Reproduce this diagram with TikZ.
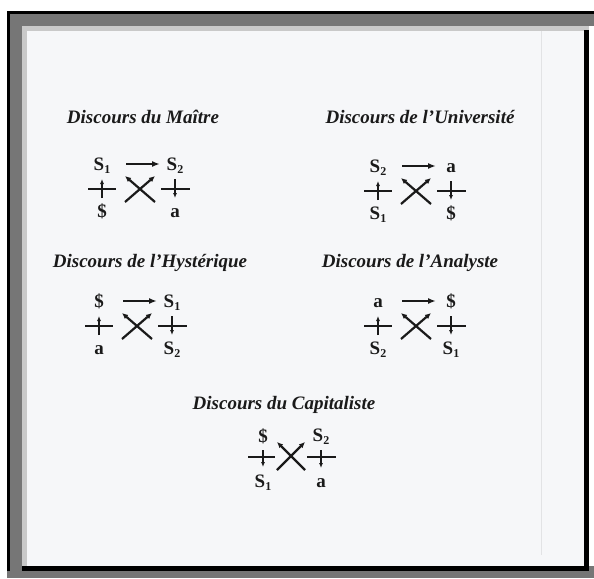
\documentclass[tikz,border=0pt]{standalone}
\usepackage{fontspec}
\setmainfont{Liberation Serif}
\usetikzlibrary{arrows.meta,calc}
\definecolor{Ink}{HTML}{1A1A1A}
\definecolor{FrameGray}{HTML}{767676}
\definecolor{FrameLight}{HTML}{C9C9C9}
\definecolor{PageWhite}{HTML}{F6F7F9}
\definecolor{ScanEdge}{HTML}{E2E3E5}
\newcommand{\lowidx}[1]{\raisebox{-0.35ex}{\fontsize{12}{12}\selectfont #1}}
\newcommand{\titlefont}{\fontsize{19}{21}\selectfont\bfseries\itshape}

\begin{document}
\begin{tikzpicture}[x=1pt,y=-1pt,
    letter/.style={inner sep=0pt,text height=13pt,text depth=0pt,
      font=\fontsize{19}{20}\selectfont\bfseries,text=Ink},
    heading/.style={anchor=base,inner sep=0pt,font=\titlefont,text=Ink},
    bar/.style={draw=Ink,line width=1.1pt},
    tick/.style={draw=Ink,line width=1.1pt,-{Latex[length=5pt,width=4pt]}},
    lead/.style={draw=Ink,line width=1.6pt,-{Latex[length=8pt,width=6pt]}},
    cross/.style={draw=Ink,line width=2.2pt,-{Latex[length=6pt,width=5.5pt]}}]
  % scanned page and its frame
  \useasboundingbox (0,0) rectangle (594,578);
  \fill[white] (0,0) rectangle (594,578);
  \fill[FrameGray] (7,11) rectangle (594,26);
  \fill[FrameGray] (7,11) rectangle (22,578);
  \fill[FrameGray] (7,566) rectangle (594,578);
  \fill[black] (7,11) rectangle (594,14);
  \fill[black] (7,11) rectangle (10,571);
  \fill[FrameLight] (22,26) rectangle (589,31);
  \fill[FrameLight] (22,26) rectangle (27,566);
  \fill[PageWhite] (27,31) rectangle (584,566);
  \fill[black] (584,30) rectangle (589,571);
  \fill[black] (22,566) rectangle (589,571);
  \draw[ScanEdge,line width=0.8pt] (541,31) -- (541,555);

  % headings
  \node[heading] (t-mai) at (143,123) {Discours du Maître};
  \node[heading] (t-uni) at (420,123) {Discours de l'Université};
  \node[heading] (t-hys) at (150,267) {Discours de l'Hystérique};
  \node[heading] (t-ana) at (410,267) {Discours de l'Analyste};
  \node[heading] (t-cap) at (284,409) {Discours du Capitaliste};

  % the four discourses
  \foreach \nm/\px/\py/\ag/\ot/\tr/\pr in
    {mai/102/189/{S\lowidx{1}}/{S\lowidx{2}}/{\$}/a,
     uni/378/191/{S\lowidx{2}}/a/{S\lowidx{1}}/{\$},
     hys/99/326/{\$}/{S\lowidx{1}}/a/{S\lowidx{2}},
     ana/378/326/a/{\$}/{S\lowidx{2}}/{S\lowidx{1}}}
  {
    \node[letter] (\nm-ag) at (\px,\py-25) {\ag};
    \node[letter] (\nm-ot) at (\px+73,\py-25) {\ot};
    \node[letter] (\nm-tr) at (\px,\py+22) {\tr};
    \node[letter] (\nm-pr) at (\px+73,\py+22) {\pr};
    \draw[bar] (\px-14,\py) -- (\px+14,\py);
    \draw[bar] (\px+59,\py) -- (\px+88,\py);
    \draw[tick,shorten <=13pt,shorten >=15pt] (\nm-tr.center) -- (\nm-ag.center);
    \draw[tick,shorten <=15pt,shorten >=13pt] (\nm-ot.center) -- (\nm-pr.center);
    \draw[lead,shorten <=24pt,shorten >=15pt] (\nm-ag.center) -- (\nm-ot.center);
    \coordinate (\nm-sw) at (\px+23,\py+13);
    \coordinate (\nm-ne) at (\px+53,\py-13);
    \coordinate (\nm-se) at (\px+53,\py+13);
    \coordinate (\nm-nw) at (\px+23,\py-13);
    \draw[cross] (\nm-sw) -- (\nm-ne);
    \draw[cross] (\nm-se) -- (\nm-nw);
  }

  % capitalist discourse
  \node[letter] (cap-ag) at (263,436) {\$};
  \node[letter] (cap-ot) at (321,435) {S\lowidx{2}};
  \node[letter] (cap-tr) at (263,481) {S\lowidx{1}};
  \node[letter] (cap-pr) at (321,481) {a};
  \draw[bar] (248,457) -- (275,457);
  \draw[bar] (307,457) -- (336,457);
  \draw[tick,shorten <=14pt,shorten >=14pt] (cap-ag.center) -- (cap-tr.center);
  \draw[tick,shorten <=15pt,shorten >=13pt] (cap-ot.center) -- (cap-pr.center);
  \coordinate (cap-sw) at (277,470);
  \coordinate (cap-ne) at (305,442);
  \coordinate (cap-se) at (305,470);
  \coordinate (cap-nw) at (277,442);
  \draw[cross] (cap-sw) -- (cap-ne);
  \draw[cross] (cap-se) -- (cap-nw);
\end{tikzpicture}
\end{document}
